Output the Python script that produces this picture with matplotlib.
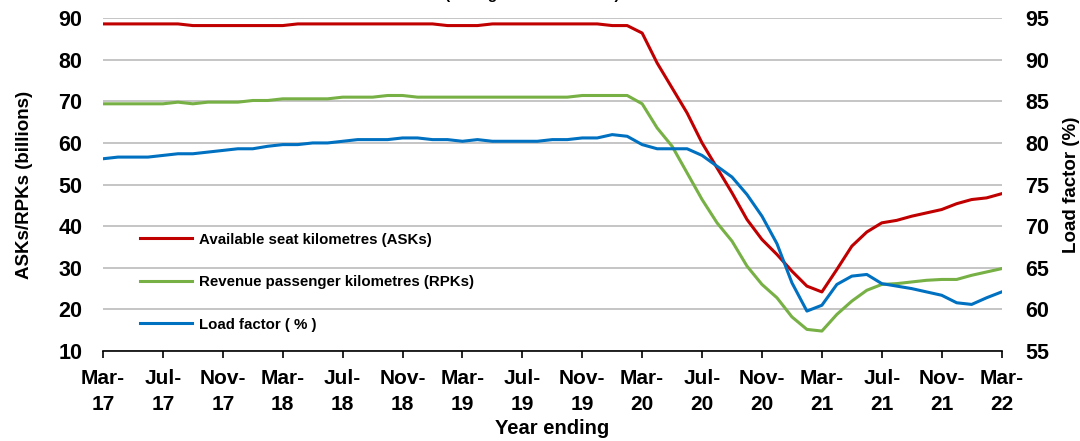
import matplotlib
matplotlib.use("Agg")
import matplotlib.pyplot as plt

plt.rcParams['font.family'] = ['Liberation Sans', 'DejaVu Sans']
plt.rcParams['font.weight'] = 'bold'
plt.rcParams['axes.labelweight'] = 'bold'

# monthly, year ending Mar-17 .. Mar-22
months = ['Mar', 'Apr', 'May', 'Jun', 'Jul', 'Aug', 'Sep', 'Oct', 'Nov', 'Dec', 'Jan', 'Feb']
labels = []
for i in range(61):
    yr = 17 + (i + 2) // 12
    labels.append(f"{months[i % 12]}-\n{yr}")

# ASKs (billions)
ask = [88.6] * 6 + [88.2] * 7 + [88.6] * 10 + [88.2] * 3 + [88.6] * 8 + [88.2] * 2 + \
      [86.4, 79.2, 73.2, 67.2, 60.0, 54.0, 48.0, 41.6, 36.8, 33.2, 29.2, 25.6,
       24.2, 29.6, 35.2, 38.6, 40.8, 41.4, 42.4, 43.2, 44.0, 45.4, 46.4, 46.8, 47.8]

# RPKs (billions)
rpk = [69.4] * 5 + [69.8, 69.4] + [69.8] * 3 + [70.2] * 2 + [70.6] * 4 + [71.0] * 3 + \
      [71.4] * 2 + [71.0] * 11 + [71.4] * 4 + \
      [69.4, 63.6, 59.2, 52.8, 46.4, 40.8, 36.4, 30.4, 26.0, 22.8, 18.2, 15.2,
       14.8, 18.8, 22.0, 24.6, 26.0, 26.2, 26.6, 27.0, 27.2, 27.2, 28.2, 29.0, 29.8]

# load factor (%)
load_factor = [78.1, 78.3, 78.3, 78.3, 78.5, 78.7, 78.7, 78.9, 79.1, 79.3, 79.3, 79.6,
               79.8, 79.8, 80.0, 80.0, 80.2, 80.4, 80.4, 80.4, 80.6, 80.6, 80.4, 80.4,
               80.2, 80.4, 80.2, 80.2, 80.2, 80.2, 80.4, 80.4, 80.6, 80.6, 81.0, 80.8,
               79.8, 79.3, 79.3, 79.3, 78.5, 77.2, 75.9, 73.8, 71.2, 67.9, 63.2, 59.8,
               60.5, 63.0, 64.0, 64.2, 63.1, 62.8, 62.5, 62.1, 61.7, 60.8, 60.6, 61.4, 62.1]

x = list(range(len(ask)))

fig = plt.figure(figsize=(10.8, 4.41), dpi=100)
ax = fig.add_axes([0.0954, 0.204, 0.832, 0.755])
ax2 = ax.twinx()

l1, = ax.plot(x, ask, color='#C00000', lw=2.2, label='Available seat kilometres (ASKs)')
l2, = ax.plot(x, rpk, color='#77B045', lw=2.2, label='Revenue passenger kilometres (RPKs)')
l3, = ax2.plot(x, load_factor, color='#0070C0', lw=2.2, label='Load factor ( % )')

ax.set_xlim(0, 60)
ax.set_ylim(10, 90)
ax2.set_ylim(55, 95)
ax.set_yticks(range(10, 91, 10))
ax2.set_yticks(range(55, 96, 5))
ax.set_xticks(x[::4])
ax.set_xticklabels(labels[::4], linespacing=1.45)

ax.grid(axis='y', color='#c0c0c0', lw=1.3)
ax.set_axisbelow(True)
for a in (ax, ax2):
    for s in ['top', 'left', 'right', 'bottom']:
        a.spines[s].set_visible(False)
ax.spines['bottom'].set_visible(True)
ax.spines['bottom'].set_color('black')
ax.spines['bottom'].set_linewidth(1.2)

ax.tick_params(axis='y', length=0, labelsize=15.5, pad=15)
ax2.tick_params(axis='y', length=0, labelsize=15.5, pad=17)
ax.tick_params(axis='x', length=5, width=1.2, labelsize=15, pad=8)

ax.set_ylabel('ASKs/RPKs (billions)', fontsize=13.5, labelpad=18)
ax2.set_ylabel('Load factor (%)', fontsize=13.5, labelpad=10)
ax.set_xlabel('Year ending', fontsize=14.5, labelpad=4)

fig.legend(handles=[l1, l2, l3], loc='upper left', bbox_to_anchor=(0.117, 0.503),
           frameon=False, prop={'weight': 'bold', 'size': 10.8},
           handlelength=3.5, handletextpad=0.45, labelspacing=1.9)

fig.text(0.493, 1.0 + 1.5 / 441, '(rolling 12 month totals)', ha='center', va='baseline',
         fontsize=11)

fig.savefig('out.png', dpi=100)
